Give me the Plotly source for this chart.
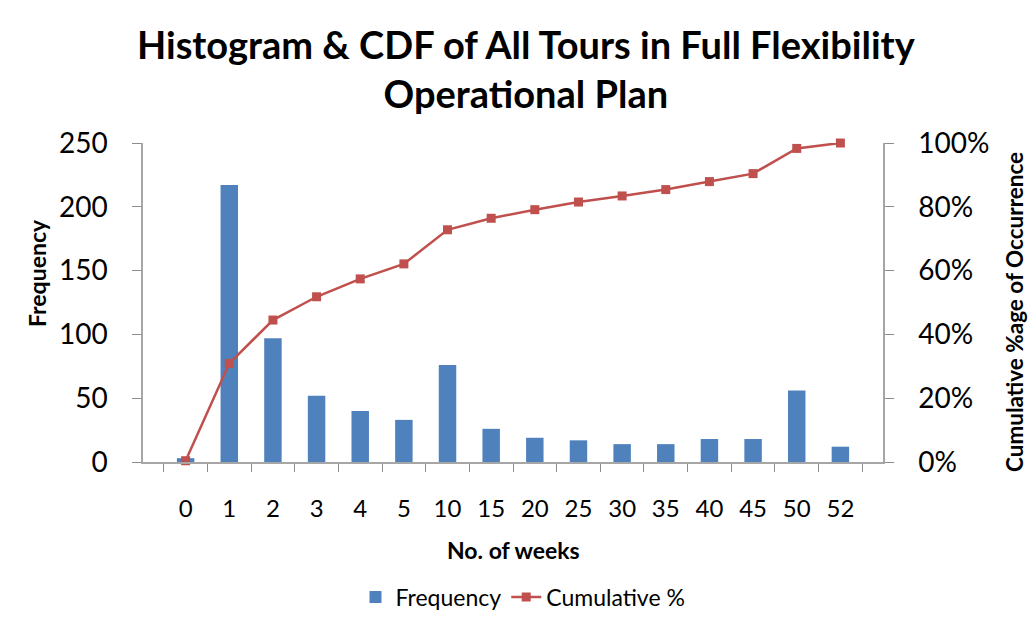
import plotly.graph_objects as go

weeks = ["0", "1", "2", "3", "4", "5", "10", "15", "20", "25", "30", "35", "40", "45", "50", "52"]
frequency = [3, 217, 97, 52, 40, 33, 76, 26, 19, 17, 14, 14, 18, 18, 56, 12]
cumulative_pct = [0.4, 30.9, 44.5, 51.8, 57.4, 62.1, 72.8, 76.4, 79.1, 81.5, 83.4, 85.4, 87.9, 90.4, 98.3, 100.0]

FONT = "Lato"
AXIS_COLOR = "#A6A6A6"
TICK_COLOR = "#8C8C8C"

# plot area in screen pixels (reference): x 143..883, y 143..462
# the page body adds an 8px offset, so the figure is drawn 8px smaller/shifted
OFF = 8
L, R, T, B = 143, 883, 143, 462
W, H = 1036 - 2 * OFF, 621 - 2 * OFF
PW, PH = R - L, B - T


def px(x):
    return (x - L) / PW


def py(y):
    return (B - y) / PH


fig = go.Figure()
fig.add_trace(go.Bar(
    x=weeks, y=frequency, name="Frequency",
    marker=dict(color="#4F81BD", line=dict(width=0)),
    yaxis="y",
))
fig.add_trace(go.Scatter(
    x=weeks, y=[v / 100 for v in cumulative_pct], name="Cumulative %",
    mode="lines+markers", cliponaxis=False,
    line=dict(color="#C0504D", width=2.5),
    marker=dict(symbol="square", size=9, color="#C0504D"),
    yaxis="y2",
))

fig.update_layout(
    width=W, height=H,
    paper_bgcolor="white", plot_bgcolor="white",
    margin=dict(l=L - OFF, r=W - (R - OFF), t=T - OFF, b=H - (B - OFF), autoexpand=False),
    font=dict(family=FONT, color="black"),
    bargap=0.6,
    showlegend=True,
    legend=dict(
        orientation="h", x=px(523), xanchor="center", y=py(597), yanchor="middle",
        font=dict(family=FONT, size=23), itemwidth=30,
    ),
    xaxis=dict(
        type="category", automargin=False,
        showline=True, linecolor=AXIS_COLOR, linewidth=1.5,
        ticks="outside", tickson="boundaries", ticklen=8, tickcolor=TICK_COLOR,
        tickfont=dict(size=24), showgrid=False, ticklabelstandoff=24,
    ),
    yaxis=dict(
        range=[0, 250], dtick=50, automargin=False,
        showline=True, linecolor=AXIS_COLOR, linewidth=1.5,
        ticks="outside", ticklen=9, tickcolor=TICK_COLOR,
        tickfont=dict(size=28), showgrid=False, zeroline=False,
        ticklabelstandoff=19,
    ),
    yaxis2=dict(
        range=[0, 1], dtick=0.2, tickformat=".0%", automargin=False,
        overlaying="y", side="right",
        showline=True, linecolor=AXIS_COLOR, linewidth=1.5,
        ticks="outside", ticklen=9, tickcolor=TICK_COLOR,
        tickfont=dict(size=28), showgrid=False, zeroline=False,
        ticklabelstandoff=19,
    ),
    annotations=[
        dict(text="<b>Histogram & CDF of All Tours in Full Flexibility<br>Operational Plan</b>",
             xref="paper", yref="paper", x=px(526), y=py(69), xanchor="center", yanchor="middle",
             showarrow=False, font=dict(family=FONT, size=38, color="black")),
        dict(text="<b>No. of weeks</b>", xref="paper", yref="paper", x=px(513.5), y=py(550),
             xanchor="center", yanchor="middle", showarrow=False, font=dict(size=23)),
        dict(text="<b>Frequency</b>", xref="paper", yref="paper", x=px(37), y=py(273),
             xanchor="center", yanchor="middle", showarrow=False, textangle=-90, font=dict(size=23)),
        dict(text="<b>Cumulative %age of Occurrence</b>", xref="paper", yref="paper", x=px(1014), y=py(312),
             xanchor="center", yanchor="middle", showarrow=False, textangle=-90, font=dict(size=22.5)),
    ],
)

fig.write_html("out.html")
